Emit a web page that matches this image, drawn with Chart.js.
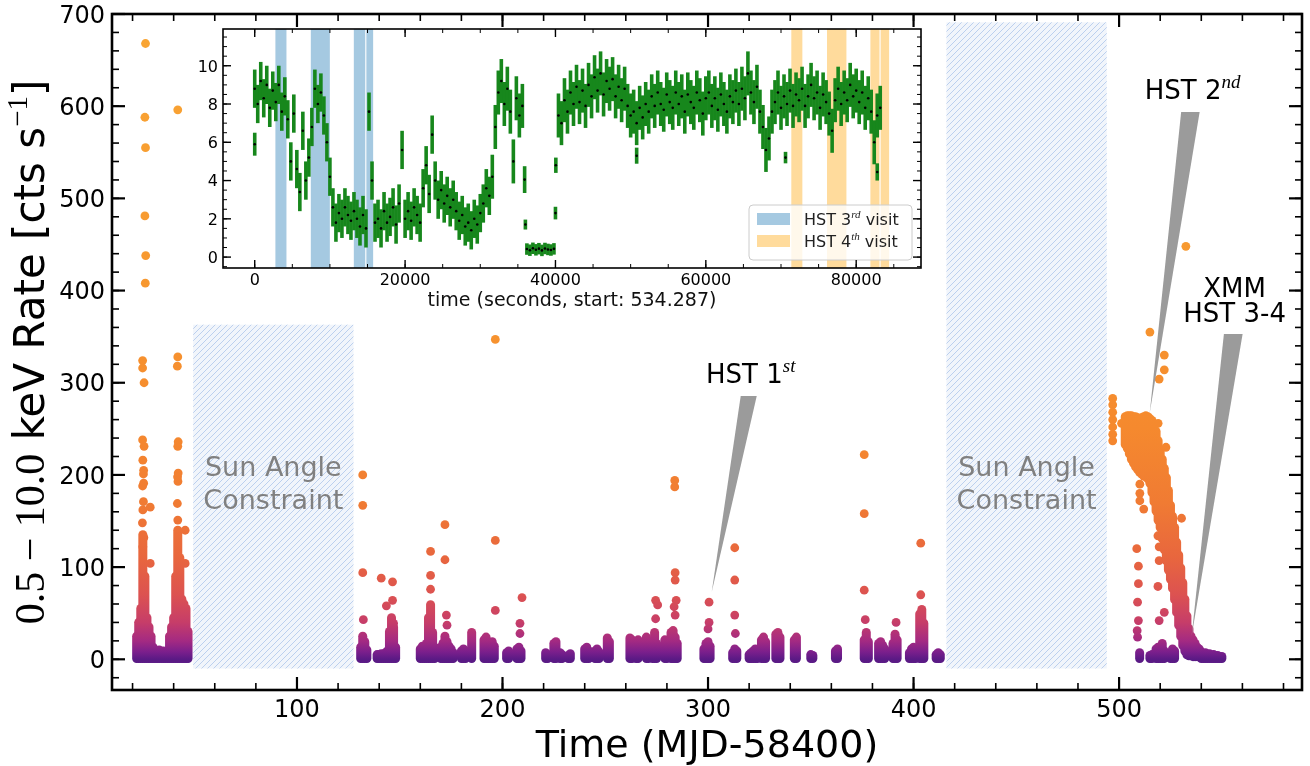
<!DOCTYPE html>
<html>
<head>
<meta charset="utf-8">
<script src="https://cdn.jsdelivr.net/npm/chart.js@4.4.1/dist/chart.umd.min.js"></script>
<style>
html, body { margin: 0; padding: 0; background: #fff; }
#wrap { position: relative; width: 1310px; height: 766px; overflow: hidden; }
#main { position: absolute; left: 0; top: 0; }
#inset { position: absolute; left: 160px; top: 10px; }
</style>
</head>
<body>
<div id="wrap">
  <canvas id="main" width="1310" height="766"></canvas>
  <canvas id="inset" width="780" height="310"></canvas>
</div>
<script>
// ---------- main light curve (MJD-58400 vs 0.5-10 keV rate) ----------
const mainXTicks = [100, 200, 300, 400, 500];
const mainYTicks = [0, 100, 200, 300, 400, 500, 600, 700];

// dense stacks of points: lowest visible rate and top of each stack
const columnFloor = -4;
const colDay = [22, 23, 24, 25, 26, 27, 28, 29, 30, 31, 32, 33, 34, 35, 36, 37, 38, 39, 40, 41, 42, 43, 44, 45, 46, 47,
  131, 132, 133, 134, 139, 140, 141, 142, 143, 144, 145, 146, 147, 148,
  160, 161, 162, 163, 164, 165, 166, 167, 170, 171, 172, 173, 174, 175, 176,
  180, 181, 182, 185, 191, 192, 193, 194, 195, 196,
  202, 203, 207, 208, 209,
  221, 222, 225, 226, 228, 229, 232, 233, 240, 241, 242, 245, 246, 247, 251, 252,
  262, 263, 265, 266, 270, 271, 273, 274, 275, 279, 280, 282, 283, 284, 285,
  298, 299, 300, 301, 312, 313, 314,
  320, 321, 322, 323, 324, 326, 327, 328, 333, 334, 335, 342, 343, 350, 351,
  362, 363,
  376, 377, 378, 383, 384, 385, 386, 390, 391, 392, 398, 399, 400, 401, 403, 404, 405, 411, 412, 413,
  510, 515, 516, 518, 519, 520, 521, 522, 525, 526, 527,
  540, 541, 542, 543, 544, 545, 546, 547, 548, 549, 550];
const colTop = [30, 45, 60, 140, 95, 50, 40, 30, 18, 14, 12, 15, 12, 14, 12, 14, 30, 40, 50, 95, 145, 115, 70, 65, 60, 35,
  18, 30, 24, 15, 10, 10, 11, 9, 12, 14, 35, 50, 40, 18,
  16, 19, 18, 22, 50, 64, 34, 18, 18, 22, 30, 24, 19, 16, 12,
  14, 16, 14, 34, 26, 29, 24, 22, 24, 19,
  12, 14, 16, 18, 14,
  12, 10, 22, 24, 12, 10, 9, 11, 16, 18, 14, 14, 16, 13, 28, 24,
  28, 26, 24, 26, 29, 24, 19, 34, 22, 26, 22, 34, 36, 29, 22,
  16, 22, 24, 19, 12, 16, 14,
  10, 12, 14, 16, 12, 26, 29, 24, 32, 34, 29, 26, 29, 10, 9,
  14, 16,
  26, 34, 24, 22, 24, 20, 16, 22, 32, 26, 12, 16, 18, 14, 54, 59, 44, 10, 12, 10,
  12, 9, 10, 16, 18, 14, 22, 14, 12, 16, 14,
  13, 11, 12, 10, 11, 9, 10, 9, 9, 8, 8];

// the bright decaying outburst near day 503-539 (lower / upper envelope)
const slabDay = [503, 504, 505, 506, 507, 508, 509, 510, 511, 512, 513, 514, 515, 516, 517, 518, 519, 520, 521,
  522, 523, 524, 525, 526, 527, 528, 529, 530, 531, 532, 533, 534, 535, 536, 537, 538, 539];
const slabLo = [228, 224, 218, 212, 208, 204, 201, 198, 196, 194, 193, 191, 186, 176, 166, 156, 146, 138, 126,
  114, 102, 92, 82, 72, 60, 46, 32, 20, 10, 4, 0, -1, -1, -2, -2, -2, -2];
const slabHi = [268, 269, 269, 269, 268, 268, 267, 266, 267, 268, 269, 268, 266, 264, 260, 252, 242, 232, 222,
  212, 202, 188, 172, 160, 148, 132, 118, 104, 88, 70, 52, 38, 30, 26, 22, 18, 16];

// isolated points
const dotDay = [24.9, 24.9, 25.6, 24.9, 25.6, 25.0, 25.4, 25.3, 25.4, 24.9, 25.3, 25.0, 28.6, 24.8, 25.5, 25.0, 28.6, 26.2, 26.4, 26.0, 26.3, 26.0, 26.3,
  42.0, 42.0, 41.8, 42.2, 42.0, 42.2, 41.9, 42.1, 41.8, 42.0, 45.6, 45.6,
  132, 132, 132, 132.3, 141, 143.5, 146.5, 146.5, 147,
  165, 165, 165, 172, 172, 172.7, 173,
  196.5, 196.5, 196.5, 208.5, 208.5, 209.5,
  274.5, 274.5, 275.5, 283.8, 283.8, 284, 284, 284.5, 283.5, 284,
  300.5, 300.5, 300, 313, 313, 313, 313.3,
  376, 376, 376, 376.5, 391.5, 403.5, 403.5,
  496.9, 496.9, 496.9, 496.9, 496.9, 496.9, 496.9, 501.2, 519, 522.8, 530.4,
  510.1, 510.1, 510.1, 512, 508.6, 509.4, 509.4, 509, 509.4, 508.8, 509,
  518.9, 519.5, 519.5, 518.9, 519.5, 522, 515, 522, 522, 519.5, 532.5];
const dotRate = [324, 316, 300, 238, 231, 216, 205, 201, 191, 188, 171, 162, 165, 148, 132, 122, 104, 408, 438, 481, 555, 588, 668,
  596, 328, 318, 236, 231, 202, 198, 193, 169, 151, 140, 104,
  200, 167, 94, 43, 88, 58, 84, 64, 39,
  117, 91, 76, 146, 108, 48, 37,
  347, 129, 53, 28, 39, 67,
  64, 44, 59, 194, 187, 94, 86, 64, 57, 48,
  62, 40, 33, 121, 86, 48, 28,
  222, 158, 75, 43, 40, 126, 70,
  283, 276, 268, 260, 252, 244, 237, 256, 256, 230, 153,
  190, 180, 172, 163, 120, 101, 82, 62, 42, 31, 24,
  134, 122, 107, 79, 42, 51, 355, 330, 314, 304, 448];

// Sun angle constraint windows
const sunStart = [49.5, 416];
const sunEnd = [127.5, 494];
const sunTop = [363, 691];
const sunBottom = -10;

// colour scale of the rate
const rateStops = [0, 8, 20, 40, 70, 110, 170, 250, 400, 700];
const rateColors = ['#5a1a85', '#7b1f8c', '#a42a82', '#c63d69', '#dc5251', '#e8663e', '#f07b33', '#f5892e', '#f7972f', '#f9a634'];

// ---------- inset: XMM light curve, 400 s bins ----------
const insetXTicks = [0, 20000, 40000, 60000, 80000];
const insetYTicks = [0, 2, 4, 6, 8, 10];
const binSize = 400;
const segStart = [0, 31600, 36200, 40400];
const segErr = [1.0, 1.15, 0.3, 1.15];
const seg1Rate = [8.8, 8.0, 9.2, 8.3, 9.0, 7.8, 8.7, 8.1, 9.0, 7.6,
  8.4, 7.2, 5.0, 7.5, 4.6, 3.4, 6.6, 4.0, 5.2, 6.8,
  8.8, 8.0, 8.6, 7.4, 6.0, 4.2, 2.6, 1.8, 2.3, 2.0,
  2.6, 2.2, 1.9, 2.4, 2.0, 1.6, 2.2, 1.5, 7.6, 4.0,
  1.8, 2.0, 1.5, 2.4, 1.8, 2.1, 2.6, 1.7, 2.8, 5.6,
  2.0, 2.4, 1.9, 2.6, 2.2, 1.8, 3.6, 4.8, 3.3, 6.4,
  4.0, 3.0, 3.5, 2.8, 3.2, 2.6, 3.0, 2.4, 1.9, 2.2,
  1.6, 1.8, 1.4, 2.0, 1.7, 2.3, 2.8, 3.6, 3.2];
const seg2Rate = [4.2, 6.8, 8.6, 9.2, 8.0, 8.8, 7.6, 5.0, 8.3, 7.4, 7.9];
const seg3Rate = [0.42, 0.36, 0.46, 0.38, 0.44, 0.35, 0.45, 0.40, 0.37, 0.43];
const seg4Rate = [7.4, 7.0, 8.2, 7.6, 8.6, 8.0, 8.9, 8.1, 8.7, 7.9,
  9.0, 8.4, 9.4, 8.7, 9.6, 8.5, 9.2, 8.8, 9.3, 8.4,
  8.9, 8.2, 8.8, 7.9, 7.4, 7.6, 7.0, 7.8, 7.3, 8.0,
  7.6, 8.4, 7.9, 8.6, 8.0, 7.7, 8.5, 8.1, 7.8, 8.6,
  8.0, 8.4, 7.6, 8.5, 8.1, 7.8, 8.6, 8.2, 7.5, 8.3,
  8.6, 7.9, 8.3, 7.7, 8.5, 8.0, 7.6, 8.4, 8.1, 8.7,
  8.0, 8.8, 8.3, 9.6, 8.6, 8.1, 8.9, 7.6, 6.8, 5.6,
  6.2, 7.6, 8.1, 8.6, 7.8, 8.4, 8.0, 8.7, 7.9, 8.5,
  8.2, 8.8, 7.9, 8.4, 9.0, 8.3, 8.6, 7.8, 8.5, 8.1,
  7.5, 6.6, 8.2, 8.8, 8.0, 8.6, 8.2, 9.0, 8.4, 8.7,
  8.1, 8.6, 7.8, 8.3, 7.6, 6.0, 7.4, 7.8];
const isoTime = [0, 35900, 36000, 40000, 40050, 50800, 70600, 82800];
const isoRate = [5.9, 4.05, 1.7, 2.3, 4.8, 5.3, 5.2, 4.45];
const isoErr = [0.6, 0.7, 0.26, 0.33, 0.4, 0.42, 0.3, 0.45];
const hst3Start = [2750, 7460, 13180, 14850];
const hst3End = [4220, 9990, 14700, 15750];
const hst4Start = [71370, 76120, 81890, 83250];
const hst4End = [72840, 78700, 83100, 84380];

const SANS = '"DejaVu Sans", sans-serif';
const SERIF = '"Liberation Serif", "DejaVu Serif", serif';
Chart.defaults.font.family = SANS;

// text made of pieces in different fonts (superscripts etc.)
function drawParts(ctx, parts, x, y, align) {
  let w = 0;
  parts.forEach(p => { ctx.font = p.font; p.w = ctx.measureText(p.t).width; w += p.w; });
  let cx = align === 'center' ? x - w / 2 : (align === 'right' ? x - w : x);
  ctx.textAlign = 'left';
  ctx.textBaseline = 'alphabetic';
  parts.forEach(p => { ctx.font = p.font; ctx.fillText(p.t, cx, y + (p.dy || 0)); cx += p.w; });
}

// frame, inward ticks on four sides and tick labels
function framePlugin(cfg) {
  return {
    id: 'frame' + cfg.name,
    afterDraw(chart) {
      const {ctx, chartArea: a, scales: {x, y}} = chart;
      ctx.save();
      ctx.strokeStyle = '#000';
      const seg = (x1, y1, x2, y2) => { ctx.beginPath(); ctx.moveTo(x1, y1); ctx.lineTo(x2, y2); ctx.stroke(); };
      ctx.lineWidth = cfg.minorWidth;
      for (let k = Math.ceil(x.min / cfg.xMinor); k * cfg.xMinor <= x.max; k++) {
        const px = x.getPixelForValue(k * cfg.xMinor);
        seg(px, a.bottom, px, a.bottom - cfg.minorLen);
        seg(px, a.top, px, a.top + cfg.minorLen);
      }
      for (let k = Math.ceil(y.min / cfg.yMinor); k * cfg.yMinor <= y.max + 1e-9; k++) {
        const py = y.getPixelForValue(k * cfg.yMinor);
        seg(a.left, py, a.left + cfg.minorLen, py);
        seg(a.right, py, a.right - cfg.minorLen, py);
      }
      ctx.lineWidth = cfg.majorWidth;
      cfg.xTicks.forEach(v => {
        const px = x.getPixelForValue(v);
        seg(px, a.bottom, px, a.bottom - cfg.majorLen);
        seg(px, a.top, px, a.top + cfg.majorLen);
      });
      cfg.yTicks.forEach(v => {
        const py = y.getPixelForValue(v);
        seg(a.left, py, a.left + cfg.majorLen, py);
        seg(a.right, py, a.right - cfg.majorLen, py);
      });
      ctx.lineWidth = cfg.frameWidth;
      ctx.strokeRect(a.left, a.top, a.right - a.left, a.bottom - a.top);
      ctx.fillStyle = '#000';
      ctx.font = cfg.tickFont;
      ctx.textBaseline = 'alphabetic';
      ctx.textAlign = 'center';
      cfg.xTicks.forEach(v => ctx.fillText(String(v), x.getPixelForValue(v), a.bottom + cfg.xLabelDrop));
      ctx.textAlign = 'right';
      cfg.yTicks.forEach(v => ctx.fillText(String(v), a.left - cfg.yLabelGap, y.getPixelForValue(v) + cfg.yLabelShift));
      ctx.restore();
    }
  };
}

let gradCache = null;
function rateFill(c) {
  const chart = c.chart;
  const y = chart.scales.y;
  if (!chart.chartArea || !y) return rateColors[0];
  const p0 = y.getPixelForValue(0), p1 = y.getPixelForValue(700);
  if (!gradCache || gradCache.p0 !== p0 || gradCache.p1 !== p1) {
    const g = chart.ctx.createLinearGradient(0, p0, 0, p1);
    rateStops.forEach((r, i) => g.addColorStop(r / 700, rateColors[i]));
    gradCache = {p0, p1, g};
  }
  return gradCache.g;
}

function hatchPattern(ctx) {
  const c = document.createElement('canvas');
  c.width = 6; c.height = 6;
  const g = c.getContext('2d');
  g.fillStyle = '#f1f5fb';
  g.fillRect(0, 0, 6, 6);
  g.strokeStyle = '#bcd0ee';
  g.lineWidth = 1;
  g.beginPath();
  g.moveTo(0, 6); g.lineTo(6, 0);
  g.moveTo(-1, 1); g.lineTo(1, -1);
  g.moveTo(5, 7); g.lineTo(7, 5);
  g.stroke();
  return ctx.createPattern(c, 'repeat');
}

// wedges pointing at the HST / XMM epochs (data coordinates)
const wedges = [
  {l: [315.9, 285.6], r: [323.7, 285.6], tip: [301.8, 73]},
  {l: [530.2, 593.6], r: [539.2, 593.6], tip: [514.9, 267.1]},
  {l: [551.0, 352.8], r: [560.1, 352.8], tip: [535.3, 25.3]}
];

const mainDecor = {
  id: 'mainDecor',
  beforeDatasetsDraw(chart) {
    const {ctx, scales: {x, y}} = chart;
    ctx.save();
    ctx.fillStyle = hatchPattern(ctx);
    sunStart.forEach((s, i) => {
      const x0 = x.getPixelForValue(s), x1 = x.getPixelForValue(sunEnd[i]);
      const y0 = y.getPixelForValue(sunTop[i]), y1 = y.getPixelForValue(sunBottom);
      ctx.fillRect(x0, y0, x1 - x0, y1 - y0);
    });
    ctx.fillStyle = '#808080';
    ctx.font = '27px ' + SANS;
    ctx.textAlign = 'center';
    ctx.textBaseline = 'alphabetic';
    sunStart.forEach((s, i) => {
      const cx = (x.getPixelForValue(s) + x.getPixelForValue(sunEnd[i])) / 2;
      ctx.fillText('Sun Angle', cx, y.getPixelForValue(199));
      ctx.fillText('Constraint', cx, y.getPixelForValue(163));
    });
    ctx.restore();
  },
  afterDatasetsDraw(chart) {
    const {ctx, scales: {x, y}} = chart;
    ctx.save();
    ctx.fillStyle = '#9b9b9b';
    wedges.forEach(w => {
      ctx.beginPath();
      ctx.moveTo(x.getPixelForValue(w.l[0]), y.getPixelForValue(w.l[1]));
      ctx.lineTo(x.getPixelForValue(w.r[0]), y.getPixelForValue(w.r[1]));
      ctx.lineTo(x.getPixelForValue(w.tip[0]), y.getPixelForValue(w.tip[1]));
      ctx.closePath();
      ctx.fill();
    });
    ctx.fillStyle = '#000';
    const big = '26px ' + SANS, sup = 'italic 19px ' + SERIF;
    drawParts(ctx, [{t: 'HST 1', font: big}, {t: 'st', font: sup, dy: -11}], x.getPixelForValue(320.8), y.getPixelForValue(299.7), 'center');
    drawParts(ctx, [{t: 'HST 2', font: big}, {t: 'nd', font: sup, dy: -11}], x.getPixelForValue(535.8), y.getPixelForValue(608.2), 'center');
    drawParts(ctx, [{t: 'XMM', font: big}], x.getPixelForValue(556.2), y.getPixelForValue(393.5), 'center');
    drawParts(ctx, [{t: 'HST 3-4', font: big}], x.getPixelForValue(556.2), y.getPixelForValue(366.4), 'center');
    ctx.restore();
  },
  afterDraw(chart) {
    const {ctx, chartArea: a} = chart;
    ctx.save();
    ctx.fillStyle = '#000';
    ctx.font = '38px ' + SANS;
    ctx.textAlign = 'center';
    ctx.textBaseline = 'alphabetic';
    ctx.fillText('Time (MJD-58400)', (a.left + a.right) / 2, a.bottom + 67);
    ctx.translate(44, (a.top + a.bottom) / 2);
    ctx.rotate(-Math.PI / 2);
    const f = 42;
    drawParts(ctx, [
      {t: '0.5 \u2212 10.0', font: f + 'px ' + SERIF},
      {t: ' keV Rate [cts s', font: f + 'px ' + SANS},
      {t: '\u22121', font: Math.round(f * 0.7) + 'px ' + SERIF, dy: -17},
      {t: ']', font: f + 'px ' + SANS}
    ], 0, 0, 'center');
    ctx.restore();
  }
};

new Chart(document.getElementById('main'), {
  type: 'bar',
  data: {
    datasets: [
      {
        type: 'bar',
        data: colDay.map((d, i) => ({x: d, y: [columnFloor, colTop[i]]})),
        backgroundColor: rateFill,
        barThickness: 9, borderRadius: 4.5, borderSkipped: false, inflateAmount: 0,
        grouped: false, order: 3
      },
      {
        type: 'bar',
        data: slabDay.map((d, i) => ({x: d, y: [slabLo[i], slabHi[i]]})),
        backgroundColor: rateFill,
        barThickness: 9, borderRadius: 4.5, borderSkipped: false, inflateAmount: 0,
        grouped: false, order: 2
      },
      {
        type: 'scatter',
        data: dotDay.map((d, i) => ({x: d, y: dotRate[i]})),
        pointBackgroundColor: rateFill,
        pointBorderWidth: 0, pointRadius: 4.4, pointHoverRadius: 4.4,
        order: 1
      }
    ]
  },
  options: {
    responsive: false, animation: false, events: [],
    layout: {padding: {top: 14, right: 8, left: 0, bottom: 0}},
    plugins: {legend: {display: false}, tooltip: {enabled: false}},
    scales: {
      x: {type: 'linear', min: 10, max: 589, offset: false,
        ticks: {display: false}, grid: {display: false, drawTicks: false}, border: {display: false},
        afterFit: s => { s.height = 76; }},
      y: {type: 'linear', min: -33.3, max: 700,
        ticks: {display: false}, grid: {display: false, drawTicks: false}, border: {display: false},
        afterFit: s => { s.width = 112; }}
    }
  },
  plugins: [mainDecor, framePlugin({
    name: 'Main', xTicks: mainXTicks, yTicks: mainYTicks, xMinor: 20, yMinor: 20,
    minorWidth: 1.6, majorWidth: 2.2, minorLen: 7, majorLen: 13, frameWidth: 2.6,
    tickFont: '24px ' + SANS, xLabelDrop: 27, yLabelGap: 7, yLabelShift: 8.7
  })]
});

// ---------- inset ----------
const insetPts = [];
[seg1Rate, seg2Rate, seg3Rate, seg4Rate].forEach((arr, s) => {
  arr.forEach((v, i) => insetPts.push({x: segStart[s] + i * binSize, y: v, e: segErr[s]}));
});
isoTime.forEach((t, i) => insetPts.push({x: t, y: isoRate[i], e: isoErr[i]}));

const insetDecor = {
  id: 'insetDecor',
  beforeDraw(chart) {
    const {ctx, chartArea: a} = chart;
    ctx.save();
    ctx.fillStyle = '#fff';
    ctx.fillRect(a.left, a.top, a.right - a.left, a.bottom - a.top);
    ctx.restore();
  },
  beforeDatasetsDraw(chart) {
    const {ctx, chartArea: a, scales: {x}} = chart;
    ctx.save();
    ctx.fillStyle = '#a5c9e1';
    hst3Start.forEach((s, i) => {
      const x0 = x.getPixelForValue(s), x1 = x.getPixelForValue(hst3End[i]);
      ctx.fillRect(x0, a.top, x1 - x0, a.bottom - a.top);
    });
    ctx.fillStyle = '#ffdb9c';
    hst4Start.forEach((s, i) => {
      const x0 = x.getPixelForValue(s), x1 = x.getPixelForValue(hst4End[i]);
      ctx.fillRect(x0, a.top, x1 - x0, a.bottom - a.top);
    });
    ctx.restore();
  },
  afterDatasetsDraw(chart) {
    const {ctx, chartArea: a} = chart;
    const bw = 163, bh = 55;
    const bx = a.right - 9 - bw, by = a.bottom - 8 - bh;
    ctx.save();
    const r = 4;
    ctx.beginPath();
    ctx.moveTo(bx + r, by);
    ctx.lineTo(bx + bw - r, by); ctx.quadraticCurveTo(bx + bw, by, bx + bw, by + r);
    ctx.lineTo(bx + bw, by + bh - r); ctx.quadraticCurveTo(bx + bw, by + bh, bx + bw - r, by + bh);
    ctx.lineTo(bx + r, by + bh); ctx.quadraticCurveTo(bx, by + bh, bx, by + bh - r);
    ctx.lineTo(bx, by + r); ctx.quadraticCurveTo(bx, by, bx + r, by);
    ctx.closePath();
    ctx.fillStyle = 'rgba(255,255,255,0.8)';
    ctx.fill();
    ctx.strokeStyle = '#cccccc';
    ctx.lineWidth = 1;
    ctx.stroke();
    ctx.fillStyle = '#a5c9e1';
    ctx.fillRect(bx + 8, by + 8, 33, 12);
    ctx.fillStyle = '#ffdb9c';
    ctx.fillRect(bx + 8, by + 30, 33, 12);
    ctx.fillStyle = '#222';
    const tf = '16px ' + SANS, sf = 'italic 11px ' + SERIF;
    drawParts(ctx, [{t: 'HST 3', font: tf}, {t: 'rd', font: sf, dy: -7}, {t: ' visit', font: tf}], bx + 55, by + 19.5, 'left');
    drawParts(ctx, [{t: 'HST 4', font: tf}, {t: 'th', font: sf, dy: -7}, {t: ' visit', font: tf}], bx + 55, by + 42, 'left');
    ctx.restore();
  },
  afterDraw(chart) {
    const {ctx, chartArea: a} = chart;
    ctx.save();
    ctx.fillStyle = '#111';
    ctx.font = '19px ' + SANS;
    ctx.textAlign = 'center';
    ctx.textBaseline = 'alphabetic';
    ctx.fillText('time (seconds, start: 534.287)', (a.left + a.right) / 2, a.bottom + 38);
    ctx.restore();
  }
};

new Chart(document.getElementById('inset'), {
  type: 'bar',
  data: {
    datasets: [
      {
        type: 'scatter',
        data: insetPts.map(p => ({x: p.x, y: p.y})),
        pointBackgroundColor: '#000', pointBorderWidth: 0, pointRadius: 1.3, pointHoverRadius: 1.3,
        order: 0
      },
      {
        type: 'bar',
        data: insetPts.map(p => ({x: p.x, y: [p.y - p.e, p.y + p.e]})),
        backgroundColor: '#17871c',
        barThickness: 3.6, borderSkipped: false, inflateAmount: 0,
        grouped: false, order: 1
      }
    ]
  },
  options: {
    responsive: false, animation: false, events: [],
    layout: {padding: {top: 19, right: 19, left: 0, bottom: 0}},
    plugins: {legend: {display: false}, tooltip: {enabled: false}},
    scales: {
      x: {type: 'linear', min: -4220, max: 88620, offset: false,
        ticks: {display: false}, grid: {display: false, drawTicks: false}, border: {display: false},
        afterFit: s => { s.height = 52; }},
      y: {type: 'linear', min: -0.57, max: 11.92,
        ticks: {display: false}, grid: {display: false, drawTicks: false}, border: {display: false},
        afterFit: s => { s.width = 63; }}
    }
  },
  plugins: [insetDecor, framePlugin({
    name: 'Inset', xTicks: insetXTicks, yTicks: insetYTicks, xMinor: 5000, yMinor: 0.5,
    minorWidth: 1, majorWidth: 1.4, minorLen: 4, majorLen: 8, frameWidth: 1.6,
    tickFont: '16px ' + SANS, xLabelDrop: 17, yLabelGap: 5, yLabelShift: 5.8
  })]
});
</script>
</body>
</html>
